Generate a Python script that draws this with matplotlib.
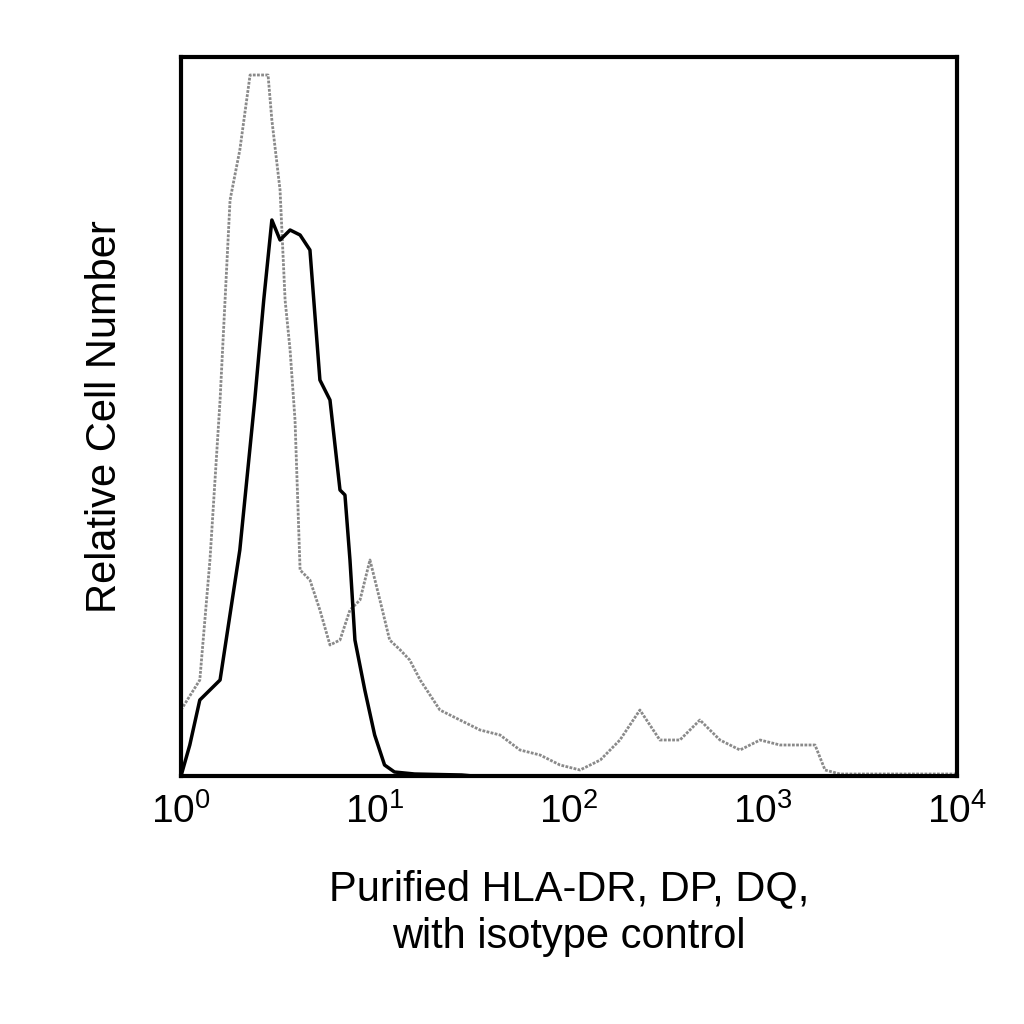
import matplotlib
matplotlib.use("Agg")
from matplotlib import pyplot as plt

plt.rcParams["font.family"] = "Liberation Sans"

# stained sample (gray), fluorescence intensity vs relative count
gray_x = [1.0, 1.25, 1.41, 1.59, 1.79, 2.01, 2.27, 2.55, 2.81, 2.94, 3.24, 3.44, 3.65, 3.87, 4.11,
          4.62, 5.20, 5.86, 6.60, 7.43, 8.37, 9.42, 10.6, 11.9, 13.5, 15.1, 17.1, 21.6, 27.4, 34.8,
          44.1, 55.9, 70.9, 89.9, 114, 145, 183, 232, 294, 373, 473, 600, 761, 966, 1224, 1552,
          1854, 2088, 2495, 5082, 10000]
gray_y = [66, 96, 216, 376, 576, 626, 701, 701, 701, 656, 586, 476, 426, 356, 206,
          196, 166, 131, 136, 166, 176, 216, 176, 136, 126, 116, 96, 66, 56, 46,
          41, 26, 21, 11, 6, 16, 36, 66, 36, 36, 56, 36, 26, 36, 31, 31,
          31, 6, 2, 2, 2]

# isotype control (black)
black_x = [1.0, 1.11, 1.25, 1.59, 2.01, 2.40, 2.67, 2.94, 3.24, 3.65, 4.11, 4.62, 5.20, 5.86,
           6.60, 7.00, 7.43, 7.88, 8.86, 9.96, 11.2, 12.6, 16.0, 28.0, 32.0]
black_y = [0, 31, 76, 96, 226, 376, 476, 556, 536, 546, 541, 526, 396, 376,
           286, 281, 216, 136, 86, 41, 11, 4, 2, 1, 0]

fig = plt.figure(figsize=(10.24, 10.24), dpi=100)
ax = fig.add_axes([181/1024, 1-776/1024, 776/1024, 719/1024])
ax.plot(gray_x, gray_y, color="#8a8a8a", lw=2, ls=(0, (1, 0.5)))
ax.plot(black_x, black_y, color="black", lw=2.5)
ax.set_xscale("log")
ax.set_xlim(1, 1e4)
ax.set_ylim(0, 719)
ax.set_yticks([])
ax.set_xticks([1, 10, 100, 1000, 10000])
ax.minorticks_off()
ax.tick_params(axis="x", length=0, labelsize=28, pad=12)
for s in ax.spines.values():
    s.set_linewidth(3)
ax.set_ylabel("Relative Cell Number", fontsize=30, labelpad=40)
ax.set_xlabel("Purified HLA-DR, DP, DQ,\nwith isotype control", fontsize=30, labelpad=28, linespacing=1.25)
fig.savefig("out.png", dpi=100)
